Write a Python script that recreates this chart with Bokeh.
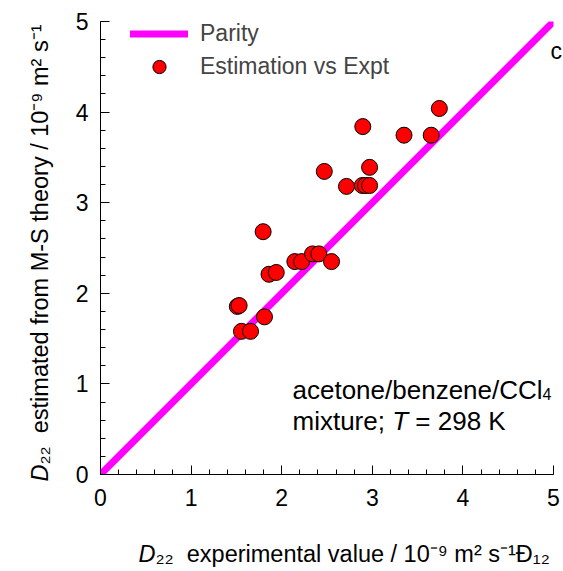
import math
from bokeh.plotting import figure
from bokeh.models import Range1d, SingleIntervalTicker, Label, Legend, LegendItem
from bokeh.embed import file_html
from bokeh.resources import INLINE

# ---- data ----
x_expt = [2.895, 3.74, 3.35, 3.65, 2.47, 2.97, 2.715, 2.89, 2.925, 2.97,
          1.795, 1.86, 1.94, 2.145, 2.22, 2.34, 2.41, 2.55,
          1.51, 1.53, 1.81, 1.556, 1.656]
y_est = [3.84, 4.04, 3.745, 3.745, 3.345, 3.39, 3.18, 3.19, 3.19, 3.19,
         2.68, 2.21, 2.23, 2.35, 2.35, 2.435, 2.435, 2.35,
         1.855, 1.865, 1.74, 1.58, 1.58]
parity_x = [0, 5]
parity_y = [0, 5]
series_names = ["Parity", "Estimation vs Expt"]
x_label_rest = "\u2082\u2082\u00a0\u00a0experimental value / 10\u207b\u2079 m\u00b2 s\u207b\u00b9\u0110\u2081\u2082"
y_label_rest = "\u2082\u2082\u00a0\u00a0estimated from M-S theory / 10\u207b\u2079 m\u00b2 s\u207b\u00b9"

FONT = "Liberation Sans"

# Arial/Liberation Sans advance widths (em)
W = {' ': .278, 'a': .556, 'b': .556, 'c': .5, 'd': .556, 'e': .556, 'f': .278,
     'h': .556, 'i': .222, 'l': .222, 'm': .833, 'n': .556, 'o': .556, 'p': .556,
     'r': .333, 's': .5, 't': .278, 'u': .556, 'v': .5, 'x': .5, 'y': .5, 'z': .5,
     '/': .278, '-': .333, ';': .278, '=': .584, 'C': .722, 'D': .722, 'E': .667,
     'K': .667, 'M': .833, 'P': .667, 'S': .667, 'T': .611}


def tw(s, size):
    return sum(W.get(c, .556) for c in s) * size


FL, FT, FR, FB = 100, 21, 553, 474   # frame edges in page pixels
PX = (FR - FL) / 5.0
SHIFT = 8   # measured offset of Bokeh's alphabetic baseline

p = figure(width=563, height=571, x_range=Range1d(0, 5), y_range=Range1d(0, 5),
           output_backend="svg", toolbar_location=None,
           min_border_left=FL, min_border_right=563 - FR, min_border_top=FT,
           min_border_bottom=571 - FB)
p.outline_line_color = None
p.xgrid.visible = False
p.ygrid.visible = False
p.background_fill_color = "white"
p.border_fill_color = "white"

for ax in (p.xaxis[0], p.yaxis[0]):
    ax.ticker = SingleIntervalTicker(interval=1, num_minor_ticks=5)
    ax.axis_line_color = "black"
    ax.major_tick_line_color = "black"
    ax.minor_tick_line_color = "black"
    ax.major_tick_in = 9
    ax.major_tick_out = 0
    ax.minor_tick_in = 5
    ax.minor_tick_out = 0
    ax.major_label_text_font = FONT
    ax.major_label_text_font_size = "23px"
    ax.major_label_text_color = "black"
p.xaxis.major_label_standoff = 14
p.yaxis.major_label_standoff = 12

r_line = p.line(parity_x, parity_y, line_color="#FF00FF", line_width=7, line_cap="round")
r_pts = p.scatter(x_expt, y_est, size=16, marker="circle", fill_color="#FF0000",
                  line_color="black", line_width=1)

legend = Legend(items=[LegendItem(label=series_names[0], renderers=[r_line]),
                       LegendItem(label=series_names[1], renderers=[r_pts])],
                location=(30, 391), padding=0, margin=0, spacing=0,
                glyph_width=58, glyph_height=33, label_height=33, label_standoff=12,
                label_text_font=FONT, label_text_font_size="23px",
                background_fill_alpha=0, border_line_color=None)
p.add_layout(legend)


def put(px, py, text, size, style="normal", angle=0.0, side="center"):
    # positions are given in page pixels and converted to data units, so a label
    # stays at the same place whichever panel it is attached to
    if angle == 0:
        py -= SHIFT
    else:
        px -= SHIFT
    lab = Label(x=(px - FL) / PX, y=(FB - py) / PX, x_units="data", y_units="data",
                text=text, text_font=FONT, text_font_size=f"{size}px",
                text_font_style=style, text_color="black",
                text_baseline="alphabetic", text_align="left", angle=angle)
    if side == "center":
        p.add_layout(lab)
    else:
        p.add_layout(lab, side)


# ---- x axis label ----
XS = 23.5
put(138, 561, "D", XS, "italic", side="left")
put(138 + tw("D", XS), 561, x_label_rest, XS, side="below")

# ---- y axis label (rotated) ----
YS = 23.5
A = math.pi / 2
put(47, 481, "D", YS, "italic", A, side="left")
put(47, 481 - tw("D", YS), y_label_rest, YS, angle=A, side="left")

# ---- annotation inside the plot ----
AN = 26
t1 = "acetone/benzene/CCl"
put(292, 397, t1, AN)
put(292 + tw(t1, AN), 401, "4", 16)
cx = 292
put(cx, 428, "mixture;", AN); cx += tw("mixture; ", AN)
put(cx, 428, "T", AN, "italic"); cx += tw("T ", AN)
put(cx, 428, "= 298 K", AN)

# panel letter (cut at the right edge)
put(550, 58, "c", 23, side="below")

open("out.html", "w").write(file_html(p, INLINE))
